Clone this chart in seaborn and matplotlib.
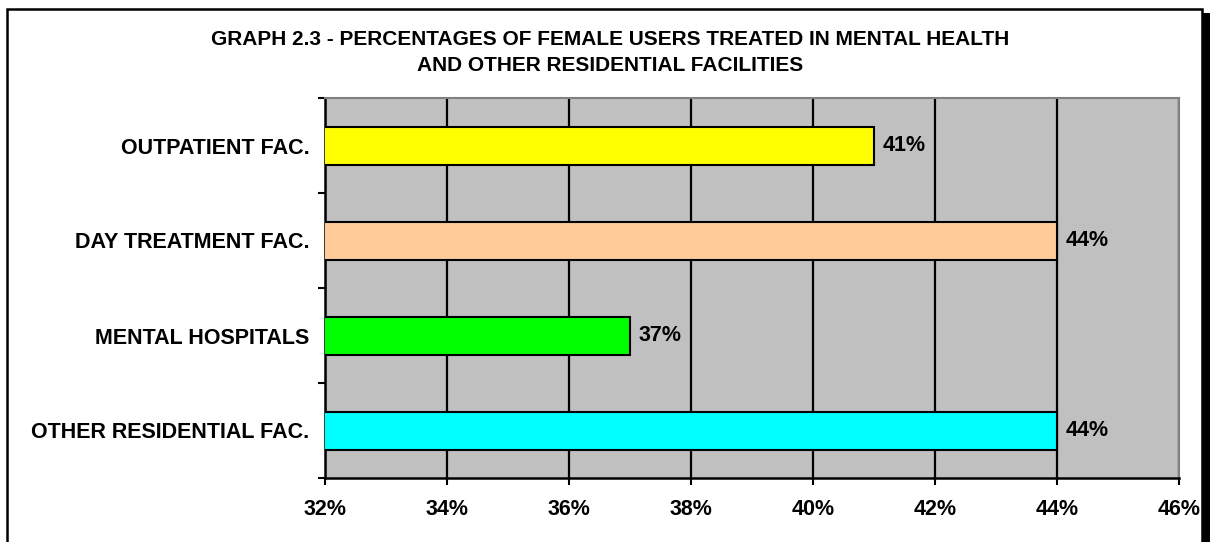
import matplotlib
matplotlib.use("Agg")
import matplotlib.pyplot as plt
from matplotlib.patches import Rectangle
from matplotlib.ticker import FixedLocator, FuncFormatter
import seaborn as sns
import pandas as pd

categories = ["OUTPATIENT FAC.", "DAY TREATMENT FAC.", "MENTAL HOSPITALS", "OTHER RESIDENTIAL FAC."]
values = [41, 44, 37, 44]
colors = ["#FFFF00", "#FFCC99", "#00FF00", "#00FFFF"]
x_ticks = [32, 34, 36, 38, 40, 42, 44, 46]
title = "GRAPH 2.3 - PERCENTAGES OF FEMALE USERS TREATED IN MENTAL HEALTH\nAND OTHER RESIDENTIAL FACILITIES"

plt.rcParams["font.family"] = ["Liberation Sans", "DejaVu Sans"]
plt.rcParams["font.weight"] = "bold"

W, H = 1210, 542
FS = 15.5
fig = plt.figure(figsize=(W / 100, H / 100), dpi=100)
fig.patch.set_facecolor("white")

# outer chart border with shadow
fig.patches.append(Rectangle((7 / W, -0.1), (1202 - 7) / W, 1.1 - 9 / H, transform=fig.transFigure,
                             fill=False, edgecolor="black", linewidth=1.8, zorder=0))
fig.patches.append(Rectangle((1203 / W, -0.1), 7 / W, 1.1 - 13 / H, transform=fig.transFigure,
                             facecolor="black", edgecolor="none", zorder=0))

ax = fig.add_axes([325 / W, 1 - 478 / H, (1179 - 325) / W, (478 - 98) / H])
ax.set_facecolor("#C0C0C0")

df = pd.DataFrame({"cat": categories, "val": values})
sns.barplot(data=df, x="val", y="cat", hue="cat", palette=colors, orient="h", width=0.4,
            saturation=1, edgecolor="black", linewidth=1.5, legend=False, ax=ax, zorder=3)

ax.set_xlim(32, 46)
ax.set_ylim(3.5, -0.5)
ax.set_axisbelow(True)
ax.xaxis.set_major_locator(FixedLocator(x_ticks))
ax.xaxis.set_major_formatter(FuncFormatter(lambda v, p: f"{v:.0f}%"))
ax.xaxis.grid(True, color="black", linewidth=1.6)
ax.yaxis.grid(False)

# y: tick marks at category boundaries, labels at centres
ax.yaxis.set_major_locator(FixedLocator([-0.5, 0.5, 1.5, 2.5, 3.5]))
ax.yaxis.set_major_formatter(FuncFormatter(lambda v, p: ""))
ax.yaxis.set_minor_locator(FixedLocator(list(range(len(categories)))))
ax.set_yticks(range(len(categories)), categories, minor=True)
ax.tick_params(axis="y", which="minor", length=0, pad=11, labelsize=FS)
ax.tick_params(axis="y", which="major", length=5, width=1.5, direction="out")
ax.tick_params(axis="x", which="major", length=5, width=1.5, direction="out", pad=10, labelsize=FS)
for lbl in ax.get_xticklabels() + ax.get_yticklabels(minor=True):
    lbl.set_fontweight("bold")

ax.set_xlabel("")
ax.set_ylabel("")

for side in ["left", "bottom"]:
    ax.spines[side].set_color("black")
    ax.spines[side].set_linewidth(1.8)
for side in ["top", "right"]:
    ax.spines[side].set_color("#808080")
    ax.spines[side].set_linewidth(1.5)

for cont in ax.containers:
    ax.bar_label(cont, labels=[f"{v:.0f}%" for v in cont.datavalues], padding=6,
                 fontsize=FS, fontweight="bold")

fig.text(610 / W, 1 - 30 / H, title, ha="center", va="top", fontsize=15,
         fontweight="bold", linespacing=1.45)

fig.savefig("out.png", dpi=100)
